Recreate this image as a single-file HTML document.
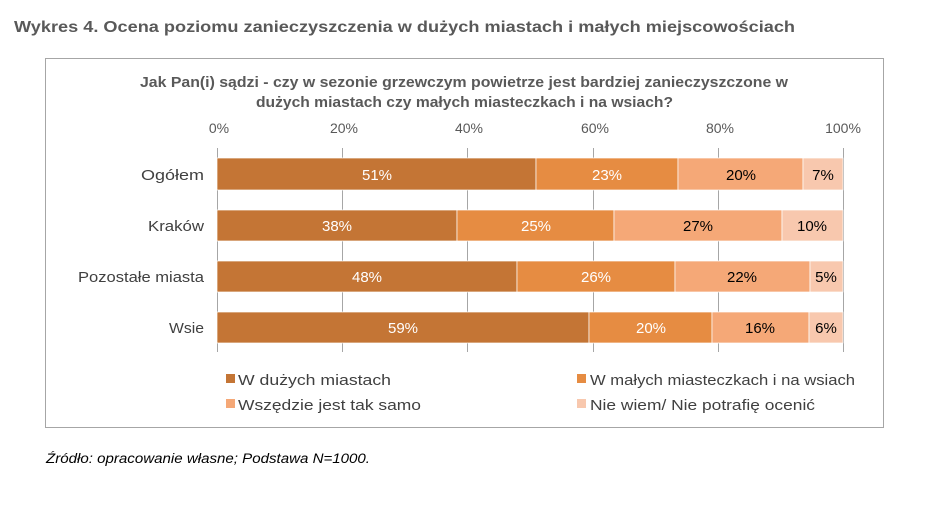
<!DOCTYPE html>
<html><head><meta charset="utf-8"><style>
body{margin:0;background:#fff;width:927px;height:510px;overflow:hidden;font-family:"Liberation Sans",sans-serif}
</style></head><body>
<svg width="927" height="510" xmlns="http://www.w3.org/2000/svg" font-family="Liberation Sans, sans-serif">
<text x="14" y="32" font-size="16" font-weight="bold" fill="#595959" textLength="781" lengthAdjust="spacingAndGlyphs">Wykres 4. Ocena poziomu zanieczyszczenia w dużych miastach i małych miejscowościach</text>
<rect x="45.5" y="58.5" width="838" height="369" fill="none" stroke="#A6A6A6"/>
<text x="140" y="87" font-size="14.5" font-weight="bold" fill="#595959" textLength="648" lengthAdjust="spacingAndGlyphs">Jak Pan(i) sądzi - czy w sezonie grzewczym powietrze jest bardziej zanieczyszczone w</text>
<text x="256" y="107" font-size="14.5" font-weight="bold" fill="#595959" textLength="417" lengthAdjust="spacingAndGlyphs">dużych miastach czy małych miasteczkach i na wsiach?</text>
<g font-size="14" fill="#595959" text-anchor="middle">
<text x="219" y="133">0%</text><text x="344" y="133">20%</text><text x="469" y="133">40%</text><text x="595" y="133">60%</text><text x="720" y="133">80%</text><text x="843" y="133">100%</text></g>
<g stroke="#A6A6A6"><line x1="217.5" y1="148" x2="217.5" y2="352"/><line x1="342.5" y1="148" x2="342.5" y2="352"/><line x1="467.5" y1="148" x2="467.5" y2="352"/><line x1="593.5" y1="148" x2="593.5" y2="352"/><line x1="718.5" y1="148" x2="718.5" y2="352"/><line x1="843.5" y1="148" x2="843.5" y2="352"/></g>
<g font-size="15" fill="#404040">
<text x="141" y="180" textLength="63" lengthAdjust="spacingAndGlyphs">Ogółem</text><text x="148" y="231" textLength="56" lengthAdjust="spacingAndGlyphs">Kraków</text><text x="78" y="282" textLength="126" lengthAdjust="spacingAndGlyphs">Pozostałe miasta</text><text x="169" y="333" textLength="35" lengthAdjust="spacingAndGlyphs">Wsie</text></g>
<g stroke="#fff" stroke-width="0.7">
<rect x="217" y="158" width="319" height="32" fill="#C47535"/><rect x="536" y="158" width="142" height="32" fill="#E68C42"/><rect x="678" y="158" width="125" height="32" fill="#F5A877"/><rect x="803" y="158" width="40" height="32" fill="#F8C8AE"/>
<rect x="217" y="210" width="240" height="31" fill="#C47535"/><rect x="457" y="210" width="157" height="31" fill="#E68C42"/><rect x="614" y="210" width="168" height="31" fill="#F5A877"/><rect x="782" y="210" width="61" height="31" fill="#F8C8AE"/>
<rect x="217" y="261" width="300" height="31" fill="#C47535"/><rect x="517" y="261" width="158" height="31" fill="#E68C42"/><rect x="675" y="261" width="135" height="31" fill="#F5A877"/><rect x="810" y="261" width="33" height="31" fill="#F8C8AE"/>
<rect x="217" y="312" width="372" height="31" fill="#C47535"/><rect x="589" y="312" width="123" height="31" fill="#E68C42"/><rect x="712" y="312" width="97" height="31" fill="#F5A877"/><rect x="809" y="312" width="34" height="31" fill="#F8C8AE"/>
</g>
<g font-size="15" text-anchor="middle">
<g fill="#fff"><text x="377" y="180">51%</text><text x="607" y="180">23%</text><text x="337" y="231">38%</text><text x="536" y="231">25%</text><text x="367" y="282">48%</text><text x="596" y="282">26%</text><text x="403" y="333">59%</text><text x="651" y="333">20%</text></g>
<g fill="#000"><text x="741" y="180">20%</text><text x="823" y="180">7%</text><text x="698" y="231">27%</text><text x="812" y="231">10%</text><text x="742" y="282">22%</text><text x="826" y="282">5%</text><text x="760" y="333">16%</text><text x="826" y="333">6%</text></g></g>
<g font-size="15" fill="#404040">
<rect x="226" y="374" width="9" height="9" fill="#C47535"/><text x="238" y="385" textLength="153" lengthAdjust="spacingAndGlyphs">W dużych miastach</text>
<rect x="577" y="374" width="9" height="9" fill="#E68C42"/><text x="590" y="385" textLength="265" lengthAdjust="spacingAndGlyphs">W małych miasteczkach i na wsiach</text>
<rect x="226" y="399" width="9" height="9" fill="#F5A877"/><text x="238" y="410" textLength="183" lengthAdjust="spacingAndGlyphs">Wszędzie jest tak samo</text>
<rect x="577" y="399" width="9" height="9" fill="#F8C8AE"/><text x="590" y="410" textLength="225" lengthAdjust="spacingAndGlyphs">Nie wiem/ Nie potrafię ocenić</text></g>
<text x="46" y="463" font-size="13.5" font-style="italic" fill="#000" textLength="324" lengthAdjust="spacingAndGlyphs">Źródło: opracowanie własne; Podstawa N=1000.</text>
</svg>
</body></html>
